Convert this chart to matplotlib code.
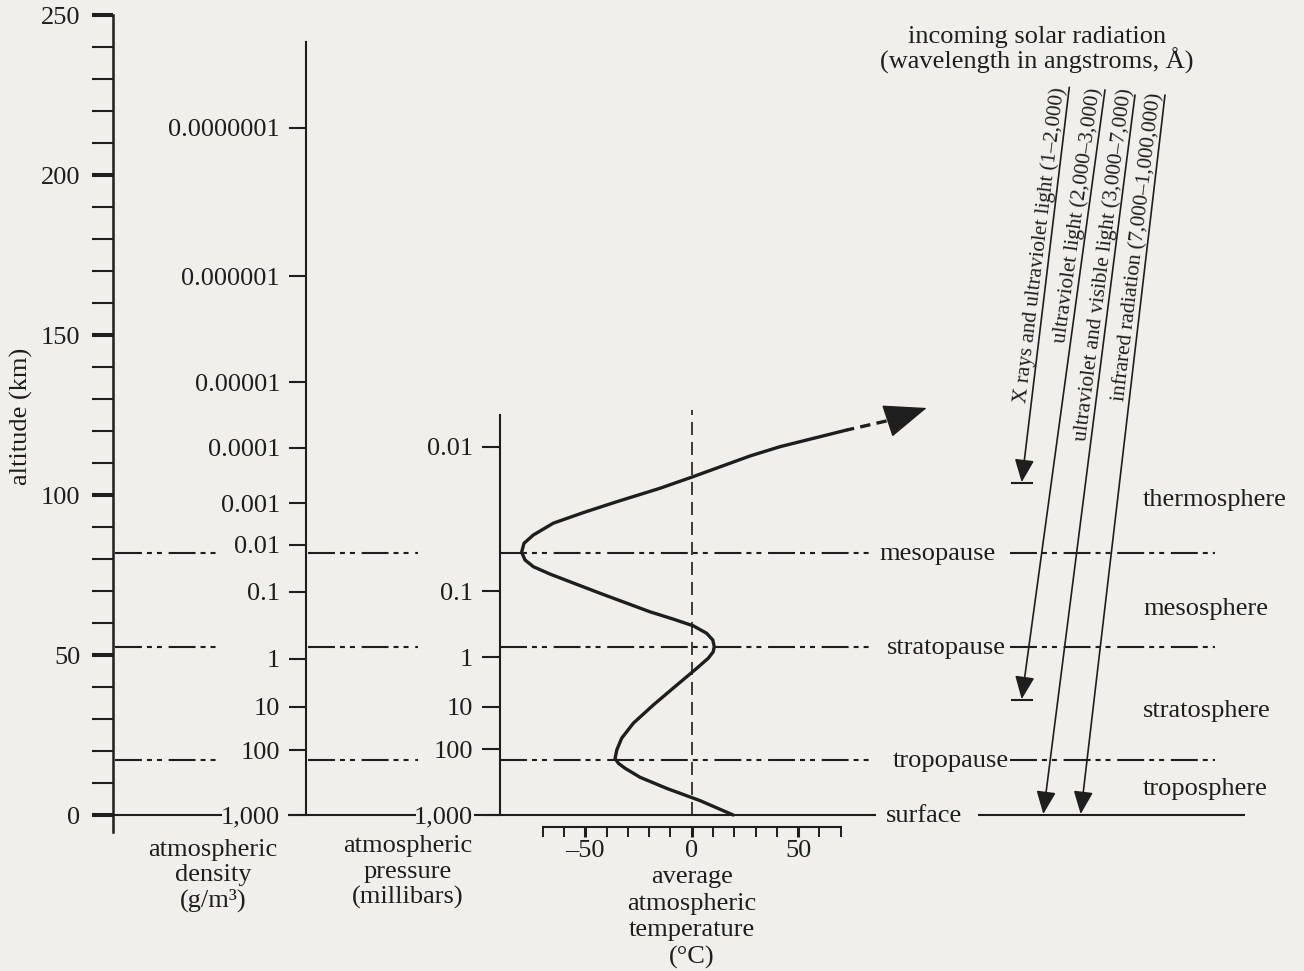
import numpy as np
import matplotlib.pyplot as plt
from matplotlib.patches import FancyArrowPatch
from matplotlib.ticker import FixedLocator, MultipleLocator

# ---- values ----
altitude_major = [0, 50, 100, 150, 200, 250]
altitude_minor = list(range(0, 251, 10))

density_labels = ["1,000", "100", "10", "1", "0.1", "0.01", "0.001",
                  "0.0001", "0.00001", "0.000001", "0.0000001"]
density_alt = [0, 20.3, 33.8, 48.8, 69.8, 84.4, 97.5, 114.8, 135.3, 168.4, 214.7]

pressure_labels = ["1,000", "100", "10", "1", "0.1", "0.01"]
pressure_alt = [0, 20.5, 33.8, 49.3, 70.0, 115.1]

temp_ticks = [-50, 0, 50]
temp_tick_labels = ["\u201350", "0", "50"]

# average temperature profile (deg C vs km)
temp_c = [19.5, 3.9, -11.7, -24.3, -31.3, -34.5, -36.0, -35.2, -32.9, -27.4, -18.0,
          -7.0, 2.3, 7.8, 10.1, 10.6, 9.9, 7.0, 0.8, -8.6, -19.6, -43.1, -66.6,
          -74.4, -78.3, -79.9, -78.8, -74.4, -65.0, -50.9, -35.2, -14.9, -0.3,
          27.4, 41.5, 72.8]
temp_alt = [0, 4.5, 8.3, 11.8, 14.6, 16.2, 17.7, 20.3, 24.0, 28.7, 34.4,
            40.6, 45.8, 49.0, 51.0, 52.6, 54.7, 56.8, 59.1, 61.2, 63.5, 69.3, 75.3,
            77.6, 79.7, 82.1, 84.9, 87.5, 91.2, 94.5, 97.9, 102.1, 105.5,
            112.2, 115.1, 120.3]
# dashed continuation, then the arrow tip
temp_ext_c = [72.8, 93.2, 110.4]
temp_ext_alt = [120.3, 123.4, 127.2]

boundary_names = ["tropopause", "stratopause", "mesopause"]
boundary_alt = [17.1, 52.5, 82.0]

layer_names = ["troposphere", "stratosphere", "mesosphere", "thermosphere"]

rad_labels = [
    "X rays and ultraviolet light (1\u20132,000)",
    "ultraviolet light (2,000\u20133,000)",
    "ultraviolet and visible light (3,000\u20137,000)",
    "infrared radiation (7,000\u20131,000,000)",
]
rad_top_alt = [227.4, 226.6, 225.0, 225.0]
rad_stop_alt = [103.7, 35.9, 0, 0]

# ---- layout (canvas x in pixels, y in km) ----
INK = "#1e1e1e"
PAPER = "#f0efeb"
FS = 19
SMALL = 15.3
PX_PER_KM = 3.2

alt_axis_x = 113
dens_x, dens_top = 305.7, 241.6
pres_x, pres_top = 500, 125
t_left_x, t_right_x = 542.7, 840.7   # -70 .. 70 deg C
t_axis_alt = -3.66

rad_top_x = [1069.3, 1105, 1135, 1165]
rad_bot_x = [1021.7, 1021.7, 1043.3, 1080.7]
rad_text_alt = [227.2, 226.9, 226.9, 225.3]

boundary_spans = [(115, 222), (308, 418), (500, 872), (1010, 1215)]
boundary_label_x = [893, 887, 879]
surface_spans = [(113, 222), (288, 416), (474, 876), (978, 1245)]
layer_label_x = 1143
layer_label_alt = [6.25, 30.7, 62.5, 96.6]

plt.rcParams["font.family"] = "serif"
plt.rcParams["font.serif"] = ["Liberation Serif", "DejaVu Serif"]
plt.rcParams["lines.scale_dashes"] = False

fig = plt.figure(figsize=(13.04, 9.71), dpi=100, facecolor=PAPER)
ax = fig.add_axes([0, 0, 1, 1])
ax.set_xlim(0, 1304)
ax.set_ylim(-48.75, 254.6875)
ax.patch.set_visible(False)
for s in ["top", "right", "bottom"]:
    ax.spines[s].set_visible(False)
ax.set_xticks([])

# altitude axis
ax.spines["left"].set_position(("data", alt_axis_x))
ax.spines["left"].set_bounds(-5.3, 250)
ax.spines["left"].set_linewidth(1.8)
ax.spines["left"].set_color(INK)
ax.yaxis.set_major_locator(FixedLocator(altitude_major))
ax.yaxis.set_minor_locator(FixedLocator(altitude_minor))
ax.tick_params(axis="y", which="major", direction="out", length=15, width=2.9,
               pad=8.6, labelsize=FS, colors=INK)
ax.tick_params(axis="y", which="minor", direction="out", length=15, width=1.5, colors=INK)
ax.text(21.7, 124.5, "altitude (km)", rotation=90, ha="center", va="center",
        fontsize=FS, color=INK)


def axes_at(x0, x1, alt0, alt1):
    inv = fig.transFigure.inverted()
    fx0, fy0 = inv.transform(ax.transData.transform((x0, alt0)))
    fx1, fy1 = inv.transform(ax.transData.transform((x1, alt1)))
    a = fig.add_axes([fx0, fy0, max(fx1 - fx0, 1e-4), fy1 - fy0])
    a.set_ylim(alt0, alt1)
    a.patch.set_visible(False)
    for s in a.spines.values():
        s.set_visible(False)
    return a


def scale_axis(x, top, alts, labels, tick_len):
    a = axes_at(x, x, 0, top)
    a.spines["left"].set_visible(True)
    a.spines["left"].set_linewidth(1.5)
    a.spines["left"].set_color(INK)
    a.set_xticks([])
    a.set_yticks(alts, labels=labels)
    a.tick_params(axis="y", direction="out", length=tick_len, width=1.5, pad=6.5,
                  labelsize=FS, colors=INK)
    return a


def stacked(x, first_base, lines, step_px):
    # one text per line so the baselines sit where the original has them
    for k, line in enumerate(lines):
        ax.text(x, first_base - k * step_px / PX_PER_KM, line, ha="center",
                va="baseline", fontsize=FS, color=INK)


scale_axis(dens_x, dens_top, density_alt, density_labels, 12)
scale_axis(pres_x, pres_top, pressure_alt, pressure_labels, 13)

# column captions
stacked(213, -12.8, ["atmospheric", "density", "(g/m\u00b3)"], 25.5)
stacked(408, -11.5, ["atmospheric", "pressure", "(millibars)"], 26)
stacked(691.7, -21.25, ["average", "atmospheric", "temperature", "(\u00b0C)"], 26.7)

# layer boundaries
dash_dot_dot = (0, (19.4, 3.6, 3.6, 3.6, 3.6, 4.8))
for alt in boundary_alt:
    for x0, x1 in boundary_spans:
        ax.plot([x0, x1], [alt, alt], color=INK, lw=1.5, linestyle=dash_dot_dot,
                dash_capstyle="butt")
for name, alt, x in zip(boundary_names, boundary_alt, boundary_label_x):
    ax.text(x, alt - 2.2, name, ha="left", va="baseline", fontsize=FS, color=INK)

for x0, x1 in surface_spans:
    ax.plot([x0, x1], [0, 0], color=INK, lw=1.5, solid_capstyle="butt")
ax.text(886, -2.1, "surface", ha="left", va="baseline", fontsize=FS, color=INK)

for name, alt in zip(layer_names, layer_label_alt):
    ax.text(layer_label_x, alt, name, ha="left", va="baseline", fontsize=FS, color=INK)

# temperature panel
ax_t = axes_at(t_left_x, t_right_x, t_axis_alt, 254.6875)
ax_t.set_xlim(-70, 70)
ax_t.spines["bottom"].set_visible(True)
ax_t.spines["bottom"].set_linewidth(1.5)
ax_t.spines["bottom"].set_color(INK)
ax_t.set_yticks([])
ax_t.set_xticks(temp_ticks, labels=temp_tick_labels)
ax_t.xaxis.set_minor_locator(MultipleLocator(10))
ax_t.tick_params(axis="x", which="major", direction="out", length=7.5, width=2.2,
                 pad=2, labelsize=FS, colors=INK)
ax_t.tick_params(axis="x", which="minor", direction="out", length=7.5, width=1.4,
                 colors=INK)

ax_t.plot([0, 0], [0, 126.6], color=INK, lw=1.2, linestyle=(0, (9.4, 5)), clip_on=False)
ax_t.plot(temp_c, temp_alt, color=INK, lw=2.4, clip_on=False,
          solid_joinstyle="round", solid_capstyle="round")
ax_t.plot(temp_ext_c[:2], temp_ext_alt[:2], color=INK, lw=2.4, clip_on=False,
          linestyle=(2, (7.5, 4.5)), dash_capstyle="butt")
head = FancyArrowPatch((temp_ext_c[1], temp_ext_alt[1]), (temp_ext_c[2], temp_ext_alt[2]),
                       arrowstyle="-|>,head_length=28,head_width=11", mutation_scale=1,
                       lw=1, color=INK, shrinkA=0, shrinkB=0, clip_on=False)
ax_t.add_patch(head)

# incoming solar radiation
stacked(1037, 241.2, ["incoming solar radiation", "(wavelength in angstroms, \u00c5)"], 25)

for i, label in enumerate(rad_labels):
    x0, a0 = rad_top_x[i], rad_top_alt[i]
    x1, a1 = rad_bot_x[i], rad_stop_alt[i]
    arr = FancyArrowPatch((x0, a0), (x1, a1 + 0.3),
                          arrowstyle="-|>,head_length=14,head_width=6", mutation_scale=1,
                          lw=1.2, color=INK, shrinkA=0, shrinkB=0)
    ax.add_patch(arr)
    if a1 > 0:
        ax.plot([x1 - 10, x1 + 10], [a1, a1], color=INK, lw=1.5)
    p0 = ax.transData.transform((x0, a0))
    p1 = ax.transData.transform((x1, a1))
    ang = np.degrees(np.arctan2(p0[1] - p1[1], p0[0] - p1[0]))
    ta = rad_text_alt[i]
    tx = x0 + (x1 - x0) * (a0 - ta) / (a0 - a1) - 5
    ax.text(tx, ta, label, rotation=ang, rotation_mode="anchor", ha="right",
            va="baseline", fontsize=SMALL, color=INK)

fig.savefig("out.png", dpi=100, facecolor=PAPER)
